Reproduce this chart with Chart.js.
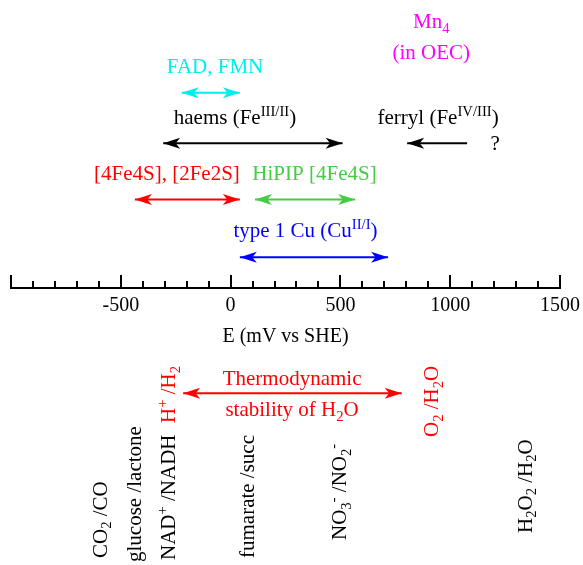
<!DOCTYPE html>
<html>
<head>
<meta charset="utf-8">
<script src="https://cdn.jsdelivr.net/npm/chart.js@4.4.1/dist/chart.umd.min.js"></script>
<style>
  html, body { margin: 0; padding: 0; background: #fff; }
  #wrap { width: 583px; height: 565px; }
</style>
</head>
<body>
<div id="wrap"><canvas id="myChart"></canvas></div>
<script>
// axis (mV vs SHE)
const tickValues = [-1000, -500, 0, 500, 1000, 1500];
const tickLabels = ['', '-500', '0', '500', '1000', '1500'];

// redox ranges drawn as arrows above the axis (mV)
const rangeNames = ['FAD, FMN', 'haems (Fe^{III/II})', 'ferryl (Fe^{IV/III})', '[4Fe4S], [2Fe2S]', 'HiPIP [4Fe4S]', 'type 1 Cu (Cu^{II/I})'];
const rangeFrom = [-223, -307, 1077, -436, 111, 42];
const rangeTo = [42, 510, 804, 42, 567, 717];
const rangeLabelAt = [-71, 20, 945, -290, 382, 341];

// extra notes (mV)
const noteTexts = ['Mn_{4}', '(in OEC)', '?'];
const noteAt = [914, 914, 1205];

// stability window of water (mV)
const waterFrom = -216;
const waterTo = 779;
const waterTexts = ['Thermodynamic', 'stability of H_{2}O'];
const waterLabelAt = 280;

// redox couples written upright below the axis (mV)
const coupleNames = ['CO_{2} /CO', 'glucose /lactone', 'NAD^{+} /NADH', 'H^{+} /H_{2}', 'fumarate /succ', 'NO_{3}^{-} /NO_{2}^{-}', 'O_{2} /H_{2}O', 'H_{2}O_{2} /H_{2}O'];
const coupleAt = [-595, -440, -285, -285, 75, 495, 915, 1340];

// ---- layout and styles ----
const FONT = "'Liberation Serif', 'Times New Roman', serif";
const rangeColors = ['#00eeee', '#000000', '#000000', '#ff0000', '#44cc44', '#0000ff'];
const rangeHeads = ['both', 'both', 'end', 'both', 'both', 'both'];
const rangeArrowY = [92.7, 143.3, 143.3, 199.5, 199.5, 257.3];
const rangeTextY = [66, 117, 117, 173, 173, 230];
const noteY = [21, 52, 143];
const noteColors = ['#ff00ff', '#ff00ff', '#000000'];
const axisY = 288;
const waterArrowY = 393.3;
const waterTextY = [378, 409];
const coupleStartY = [558, 562, 560, 423, 558, 540, 437, 533];
const coupleColors = ['#000', '#000', '#000', '#ff0000', '#000', '#000', '#ff0000', '#000'];
const LABEL_SIZE = 21;

Chart.defaults.font.family = FONT;
Chart.defaults.font.size = 20;
Chart.defaults.color = '#000';

function parseRich(str) {
    const segs = [];
    let buf = '';
    let i = 0;
    while (i < str.length) {
        const c = str[i];
        if ((c === '_' || c === '^') && str[i + 1] === '{') {
            if (buf) { segs.push({t: buf, k: 0}); buf = ''; }
            const end = str.indexOf('}', i);
            segs.push({t: str.slice(i + 2, end), k: c === '_' ? 1 : -1});
            i = end + 1;
        } else {
            buf += c;
            i++;
        }
    }
    if (buf) segs.push({t: buf, k: 0});
    return segs;
}

// draws text with sub/superscripts; y is the middle of the capitals
function drawRich(ctx, str, x, y, color, align, rotate) {
    const size = LABEL_SIZE;
    const segs = parseRich(str);
    ctx.save();
    ctx.translate(x, y);
    if (rotate) ctx.rotate(-Math.PI / 2);
    ctx.fillStyle = color;
    ctx.textBaseline = 'alphabetic';
    ctx.textAlign = 'left';
    let w = 0;
    segs.forEach(s => {
        ctx.font = (s.k ? size * 0.7 : size) + 'px ' + FONT;
        s.w = ctx.measureText(s.t).width;
        w += s.w;
    });
    let cx = align === 'center' ? -w / 2 : 0;
    const base = size * 0.33;
    segs.forEach(s => {
        ctx.font = (s.k ? size * 0.7 : size) + 'px ' + FONT;
        const dy = s.k === 1 ? size * 0.22 : (s.k === -1 ? -size * 0.4 : 0);
        ctx.fillText(s.t, cx, base + dy);
        cx += s.w;
    });
    ctx.restore();
}

function drawHead(ctx, tipX, tipY, dir) {
    const L = 17, W = 5.5, N = 4.5;
    ctx.beginPath();
    ctx.moveTo(tipX, tipY);
    ctx.lineTo(tipX - dir * L, tipY - W);
    ctx.lineTo(tipX - dir * (L - N), tipY);
    ctx.lineTo(tipX - dir * L, tipY + W);
    ctx.closePath();
    ctx.fill();
}

const annotate = {
    id: 'annotate',
    afterDatasetsDraw(chart) {
        const ctx = chart.ctx;
        const xs = chart.scales.x;
        const ys = chart.scales.y;
        chart.data.datasets.forEach((ds, i) => {
            const pts = chart.getDatasetMeta(i).data;
            const a = pts[0], b = pts[1];
            const dir = Math.sign(b.x - a.x);
            ctx.fillStyle = ds.borderColor;
            drawHead(ctx, b.x, b.y, dir);
            if (ds.heads === 'both') drawHead(ctx, a.x, a.y, -dir);
        });
        rangeNames.forEach((t, i) => {
            drawRich(ctx, t, xs.getPixelForValue(rangeLabelAt[i]), ys.getPixelForValue(rangeTextY[i]), rangeColors[i], 'center');
        });
        noteTexts.forEach((t, i) => {
            drawRich(ctx, t, xs.getPixelForValue(noteAt[i]), ys.getPixelForValue(noteY[i]), noteColors[i], 'center');
        });
        waterTexts.forEach((t, i) => {
            drawRich(ctx, t, xs.getPixelForValue(waterLabelAt), ys.getPixelForValue(waterTextY[i]), '#ff0000', 'center');
        });
        coupleNames.forEach((t, i) => {
            drawRich(ctx, t, xs.getPixelForValue(coupleAt[i]), ys.getPixelForValue(coupleStartY[i]), coupleColors[i], 'left', true);
        });
    }
};

const datasets = rangeNames.map((name, i) => ({
    label: name,
    data: [{x: rangeFrom[i], y: rangeArrowY[i]}, {x: rangeTo[i], y: rangeArrowY[i]}],
    borderColor: rangeColors[i],
    backgroundColor: rangeColors[i],
    borderWidth: 2,
    showLine: true,
    pointRadius: 0,
    heads: rangeHeads[i]
}));
datasets.push({
    label: 'Thermodynamic stability of H2O',
    data: [{x: waterFrom, y: waterArrowY}, {x: waterTo, y: waterArrowY}],
    borderColor: '#ff0000',
    backgroundColor: '#ff0000',
    borderWidth: 2,
    showLine: true,
    pointRadius: 0,
    heads: 'both'
});

// axis placed inside the plot: keep its label overhang from pushing the plot edges
function noPadding(s) { s.paddingLeft = 0; s.paddingRight = 0; }

const ctx = document.getElementById('myChart');
const myChart = new Chart(ctx, {
    type: 'scatter',
    data: { datasets: datasets },
    options: {
        responsive: true,
        maintainAspectRatio: false,
        animation: false,
        events: [],
        layout: { padding: { left: 11, right: 23, top: 0, bottom: 0 } },
        plugins: { legend: { display: false }, tooltip: { enabled: false } },
        scales: {
            x: {
                type: 'linear',
                min: -1000,
                max: 1500,
                position: { y: axisY },
                afterBuildTicks: s => { s.ticks = tickValues.map(v => ({ value: v })); },
                afterFit: s => { s.height = 61; noPadding(s); },
                ticks: {
                    autoSkip: false,
                    maxRotation: 0,
                    padding: 20,
                    font: { size: 20 },
                    callback: (value, index) => tickLabels[index]
                },
                grid: {
                    display: true,
                    drawOnChartArea: false,
                    drawTicks: true,
                    tickLength: -14,
                    tickWidth: 2,
                    tickColor: '#000',
                    lineWidth: 2
                },
                border: { display: true, color: '#000', width: 2 },
                title: {
                    display: true,
                    text: 'E (mV vs SHE)',
                    font: { size: 20 },
                    padding: { top: 0, bottom: 0 }
                }
            },
            xMinor: {
                axis: 'x',
                type: 'linear',
                min: -1000,
                max: 1500,
                position: { y: axisY },
                afterFit: s => { s.height = 0; noPadding(s); },
                ticks: { display: false, stepSize: 100, autoSkip: false, callback: () => '' },
                grid: {
                    display: true,
                    drawOnChartArea: false,
                    drawTicks: true,
                    tickLength: -7,
                    tickWidth: 2,
                    tickColor: '#000',
                    lineWidth: 2
                },
                border: { display: false }
            },
            y: {
                type: 'linear',
                display: false,
                reverse: true,
                min: 0,
                max: 565
            }
        }
    },
    plugins: [annotate]
});
</script>
</body>
</html>
